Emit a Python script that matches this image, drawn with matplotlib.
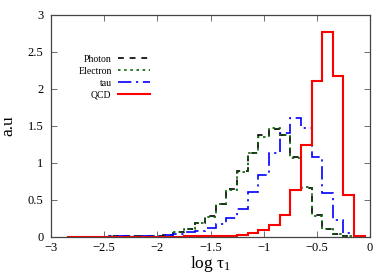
import numpy as np
import matplotlib
matplotlib.use("Agg")
import matplotlib.pyplot as plt
from matplotlib.ticker import FuncFormatter, MultipleLocator

plt.rcParams['font.family'] = ['Liberation Serif', 'DejaVu Serif']
plt.rcParams['mathtext.fontset'] = 'custom'
plt.rcParams['mathtext.rm'] = 'Liberation Serif'

# histogram bins: width 0.1, first edge at -2.85
bin_start = -2.85
bin_width = 0.1

# normalised entries per bin (centres -2.8 ... -0.1)
photon = [0.002, 0.002, 0.003, 0.003, 0.004, 0.005, 0.007, 0.010, 0.015,
          0.03, 0.06, 0.11, 0.18, 0.28, 0.44, 0.64, 0.89, 1.13, 1.37,
          1.46, 1.37, 1.08, 0.66, 0.29, 0.11, 0.036, 0.01, 0.0]
electron = [0.002, 0.002, 0.003, 0.003, 0.004, 0.005, 0.007, 0.010, 0.016,
            0.03, 0.065, 0.105, 0.18, 0.27, 0.44, 0.63, 0.88, 1.13, 1.35,
            1.465, 1.38, 1.07, 0.67, 0.28, 0.11, 0.04, 0.01, 0.0]
tau = [0.0, 0.0, 0.003, 0.003, 0.004, 0.005, 0.006, 0.008, 0.012,
       0.02, 0.04, 0.06, 0.08, 0.12, 0.17, 0.26, 0.38, 0.61, 0.83,
       1.13, 1.40, 1.60, 1.465, 1.08, 0.595, 0.225, 0.054, 0.01]
qcd = [0.0, 0.0, 0.0, 0.0, 0.0, 0.0, 0.0, 0.002,
       0.002, 0.003, 0.003, 0.004, 0.005, 0.007, 0.010, 0.012,
       0.02, 0.045, 0.09, 0.155, 0.30, 0.63, 1.24, 2.10, 2.77, 2.17, 0.56, 0.005]

edges = bin_start + bin_width * np.arange(len(qcd) + 1)

fig = plt.figure(figsize=(3.92, 2.75), dpi=100)
ax = fig.add_axes([0.130, 0.139, 0.814, 0.808])

ax.stairs(photon, edges, color='black', lw=1.2, linestyle=(0, (3.5, 3.5)), label='Photon')
ax.stairs(electron, edges, color='#006400', lw=1.2, linestyle=(0, (1.5, 2.2)), label='Electron')
ax.stairs(tau, edges, color='#0000ff', lw=1.2, linestyle=(0, (8, 2.8, 1.3, 2.8)), label='tau')
ax.stairs(qcd, edges, color='#ff0000', lw=1.5, label='QCD')

ax.set_xlim(-3, 0)
ax.set_ylim(0, 3)
ax.xaxis.set_major_locator(MultipleLocator(0.5))
ax.yaxis.set_major_locator(MultipleLocator(0.5))
fmt = FuncFormatter(lambda v, p: ('%g' % v).replace('-', '\u2212'))
ax.xaxis.set_major_formatter(fmt)
ax.yaxis.set_major_formatter(fmt)
ax.tick_params(direction='in', length=4, width=0.6, color='#555555',
               top=True, right=True, labelsize=9)
ax.tick_params(axis='x', pad=4)
ax.tick_params(axis='y', pad=5.5)
for s in ax.spines.values():
    s.set_color('#444444')
    s.set_linewidth(0.9)

ax.set_xlabel(r'log $\mathregular{\tau_1}$', fontsize=12.5, labelpad=0)
ax.set_ylabel('a.u', fontsize=12.5, labelpad=8)

# handles on the right, labels right-aligned (markerfirst=False does that)
leg = ax.legend(loc='upper right', bbox_to_anchor=(0.318, 0.828), frameon=False,
                markerfirst=False, fontsize=7, handlelength=3.3, handletextpad=0.7,
                labelspacing=0.3, borderpad=0.2, borderaxespad=0)

fig.savefig('out.png', dpi=100)
